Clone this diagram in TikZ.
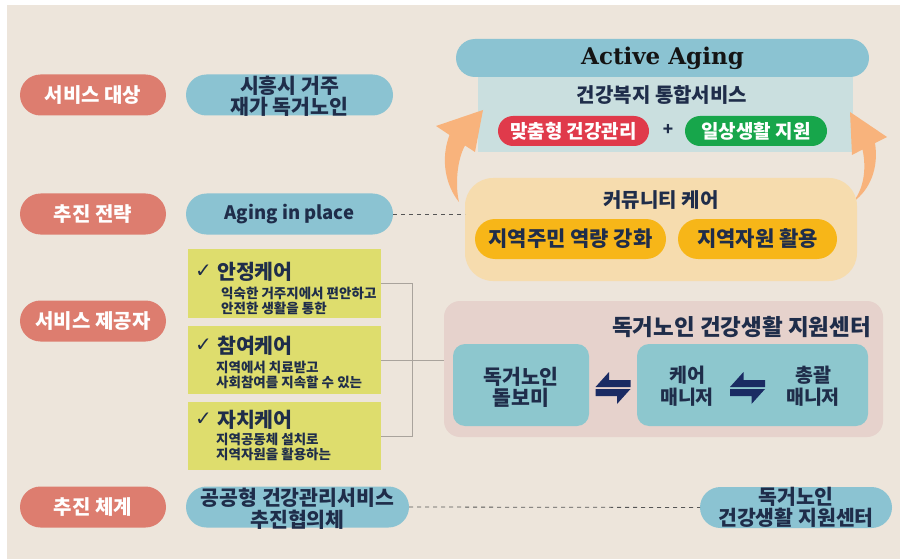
\documentclass[tikz,border=0pt]{standalone}
\usepackage{fontspec}
\setmainfont{Noto Sans CJK KR}
\newfontfamily\dvfont{DejaVu Sans}
\newfontfamily\dvserif{DejaVu Serif}
\definecolor{bgc}{HTML}{EDE5DB}
\definecolor{redc}{HTML}{DD7D6F}
\definecolor{bluec}{HTML}{8BC3D2}
\definecolor{navy}{HTML}{1F2D4A}
\definecolor{yelc}{HTML}{DEDD6D}
\definecolor{lbluec}{HTML}{CADFDF}
\definecolor{ccc}{HTML}{F6DCAE}
\definecolor{goldc}{HTML}{F7B618}
\definecolor{pinkc}{HTML}{E6D2CC}
\definecolor{tealc}{HTML}{8DC7CE}
\definecolor{redp}{HTML}{E03A4B}
\definecolor{greenp}{HTML}{17A64B}
\definecolor{orangec}{HTML}{F8B37C}
\definecolor{arrowc}{HTML}{1A2B63}
\definecolor{grayline}{HTML}{A9A39C}
\definecolor{dashc}{HTML}{555555}
\begin{document}
\begin{tikzpicture}[x=1pt,y=-1pt,
  box/.style={inner sep=0pt, outer sep=0pt},
  txt/.style={inner sep=0pt, text=navy, align=center, font=\fontsize{20.5}{21}\selectfont\bfseries},
  redpill/.style={box, fill=redc, rounded corners=20.5pt, minimum width=146pt, minimum height=41pt, text=white, font=\fontsize{20}{21}\selectfont\bfseries},
  bluepill/.style={box, fill=bluec, rounded corners=20.5pt, minimum height=41pt},
  yelbox/.style={box, fill=yelc, minimum width=193pt},
  headtxt/.style={inner sep=0pt, anchor=west, text=navy, font=\fontsize{20.5}{22}\selectfont\bfseries},
  subtxt/.style={inner sep=0pt, anchor=west, text=navy, align=left, font=\fontsize{13.5}{15}\selectfont\bfseries},
  smallpill/.style={box, rounded corners=15pt, minimum height=30pt, text=white, font=\fontsize{19}{20}\selectfont\bfseries},
  goldpill/.style={box, fill=goldc, rounded corners=20pt, minimum height=40pt, text=navy, font=\fontsize{21}{22}\selectfont\bfseries},
  tealbox/.style={box, fill=tealc, rounded corners=12pt, minimum height=82pt},
  dashconn/.style={draw=dashc, dash pattern=on 4pt off 4pt, line width=0.8pt},
  bracketline/.style={draw=grayline, line width=0.6pt},
  checkmk/.style={inner sep=0pt, anchor=west, text=navy, font=\dvfont\bfseries\fontsize{20}{21}\selectfont}
]
\useasboundingbox (0,0) rectangle (900,559);
\fill[white] (0,0) rectangle (900,559);
\fill[bgc] (7,5) rectangle (900,559);

% left column labels
\node[redpill] (r1) at (93,95) {서비스 대상};
\node[redpill] (r2) at (93,214) {추진 전략};
\node[redpill] (r3) at (93,321) {서비스 제공자};
\node[redpill] (r4) at (93,507) {추진 체계};

% blue pills
\node[bluepill, minimum width=207pt] (b1) at (289.5,95) {};
\node[txt] (b1t) at (289.5,96.5) {시흥시 거주\\재가 독거노인};
\node[bluepill, minimum width=207pt] (b2) at (289.5,214) {};
\node[txt, font=\fontsize{18.5}{21}\selectfont\bfseries] (b2t) at (b2) {Aging in place};
\node[bluepill, minimum width=223pt] (b3) at (297.5,507) {};
\node[txt, font=\fontsize{20.5}{22}\selectfont\bfseries] (b3t) at (297.5,509) {공공형 건강관리서비스\\추진협의체};
\node[bluepill, minimum width=192pt] (b4) at (796,507.5) {};
\node[txt] (b4t) at (796,507.5) {독거노인\\건강생활 지원센터};

% yellow boxes
\node[yelbox, minimum height=69pt] (y1) at (284.5,283.5) {};
\node[yelbox, minimum height=68pt] (y2) at (284.5,360) {};
\node[yelbox, minimum height=68pt] (y3) at (284.5,436) {};
\node[checkmk] (c1) at (195,271) {✓};
\node[headtxt] (h1) at (217,272) {안정케어};
\node[subtxt] (s1) at (221,300.5) {익숙한 거주지에서 편안하고\\안전한 생활을 통한};
\node[checkmk] (c2) at (195,345) {✓};
\node[headtxt] (h2) at (217,346) {참여케어};
\node[subtxt] (s2) at (216,374.5) {지역에서 치료받고\\사회참여를 지속할 수 있는};
\node[checkmk] (c3) at (195,419) {✓};
\node[headtxt] (h3) at (217,420) {자치케어};
\node[subtxt] (s3) at (216,447) {지역공동체 설치로\\지역자원을 활용하는};

% top right
\node[box, fill=lbluec, minimum width=375pt, minimum height=82pt] (lb) at (665.5,111) {};
\node[bluepill, minimum width=413pt, minimum height=38pt, rounded corners=19pt] (aa) at (662.5,58) {};
\node[inner sep=0pt, text=black!92, font=\dvserif\bfseries\fontsize{23}{25}\selectfont] (aat) at (662.5,58) {Active Aging};
\node[txt, font=\fontsize{20}{21}\selectfont\bfseries] (hw) at (662,95) {건강복지 통합서비스};
\node[smallpill, fill=redp, minimum width=151pt] (mh) at (573.5,131) {맞춤형 건강관리};
\node[txt, font=\fontsize{17}{18}\selectfont\bfseries] (plus) at (668,130) {+};
\node[smallpill, fill=greenp, minimum width=142pt] (ds) at (756,131) {일상생활 지원};

% orange arrows
\fill[orangec] (483,110) -- (475,152) -- (465,145.5)
  .. controls (457,160) and (455,185) .. (459,202)
  .. controls (446,186) and (440,160) .. (449.5,135) -- (436,126) -- cycle;
\fill[orangec] (850,112) -- (852,155) -- (862.5,149.5)
  .. controls (867,170) and (863,190) .. (853,202)
  .. controls (870,190) and (879,168) .. (875,143) -- (887,137) -- cycle;

% community care
\node[box, fill=ccc, rounded corners=28pt, minimum width=392pt, minimum height=103pt] (cc) at (661,229.5) {};
\node[txt, font=\fontsize{20}{21}\selectfont\bfseries] (cct) at (661,200) {커뮤니티 케어};
\node[goldpill, minimum width=191pt] (g1) at (570.5,239) {지역주민 역량 강화};
\node[goldpill, minimum width=159pt] (g2) at (757.5,239) {지역자원 활용};

% support center
\node[box, fill=pinkc, rounded corners=16pt, minimum width=439pt, minimum height=136pt] (pk) at (663.5,369) {};
\node[txt, anchor=east, font=\fontsize{22.5}{24}\selectfont\bfseries] (pkt) at (871,327) {독거노인 건강생활 지원센터};
\node[tealbox, minimum width=136pt] (t1) at (521,385) {};
\node[txt, font=\fontsize{20.5}{21}\selectfont\bfseries] (t1t) at (521,387) {독거노인\\돌보미};
\node[tealbox, minimum width=231pt] (t2) at (752.5,385) {};
\node[txt, font=\fontsize{19.5}{22}\selectfont\bfseries] (cmt) at (687,386) {케어\\매니저};
\node[txt, font=\fontsize{19.5}{22}\selectfont\bfseries] (gmt) at (813,386) {총괄\\매니저};

% exchange arrows
\coordinate (da1) at (613,388);
\coordinate (da2) at (747.5,388);
\foreach \c in {da1,da2}{
  \fill[arrowc, shift={(\c)}] (-17.5,-1) -- (-4,-16) -- (-4,-8) -- (17.5,-8) -- (17.5,-1) -- cycle;
  \fill[arrowc, shift={(\c)}] (17.5,1) -- (4,16) -- (4,8) -- (-17.5,8) -- (-17.5,1) -- cycle;
}

% connectors
\coordinate (brx) at (412,0);
\draw[bracketline] (y1.east) -| (brx |- y3.east) -- (y3.east);
\draw[bracketline] (y2.east) -- (y2.east -| pk.west);
\draw[dashconn] (b2.east) -- (b2.east -| cc.west);
\draw[dashconn] (b3.east) -- (b4.west);
\end{tikzpicture}
\end{document}
